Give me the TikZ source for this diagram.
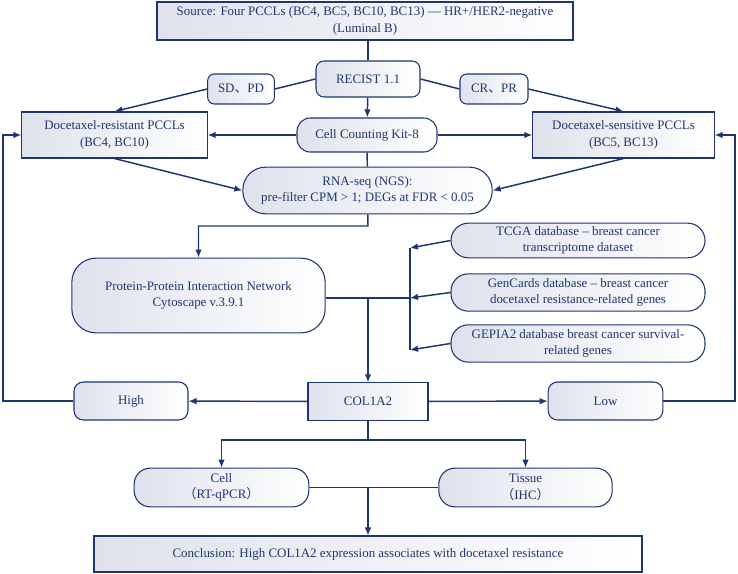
\documentclass[tikz,border=0pt]{standalone}
\usepackage{fontspec}
\setmainfont{Liberation Serif}
\newfontfamily\cjk{Noto Sans CJK SC}
\usetikzlibrary{arrows.meta}
\definecolor{navy}{HTML}{1F3570}
\definecolor{boxfill}{HTML}{DFE2EC}

\begin{document}
\begin{tikzpicture}[x=0.75pt,y=-0.75pt,>={Latex[length=6pt,width=5pt]},
    line/.style={draw=navy,line width=1.1pt},
    sqbox/.style={draw=navy,line width=0.8pt,left color=boxfill,right color=white,
        text=navy,align=center,inner sep=0pt,font=\fontsize{9.7}{12.5}\selectfont},
    rndbox/.style={sqbox,rounded corners=#1},
    rndbox/.default=6pt]
    \useasboundingbox (0,0) rectangle (738,574);
    \node[sqbox,minimum width=312pt,minimum height=28.5pt] (src) at (365,21)
        {Source: Four PCCLs (BC4, BC5, BC10, BC13) — HR+/HER2-negative\\(Luminal B)};
    \node[rndbox,minimum width=78pt,minimum height=27pt] (recist) at (368,79) {RECIST 1.1};
    \node[rndbox=5pt,minimum width=50pt,minimum height=22.5pt] (sdpd) at (241,89) {SD{\cjk 、}PD};
    \node[rndbox=5pt,minimum width=51pt,minimum height=22.5pt] (crpr) at (494,89) {CR{\cjk 、}PR};
    \node[sqbox,minimum width=139pt,minimum height=34.5pt] (res) at (114.5,135)
        {Docetaxel-resistant PCCLs\\(BC4, BC10)};
    \node[rndbox=10pt,minimum width=105pt,minimum height=25.5pt] (cck) at (367,135) {Cell Counting Kit-8};
    \node[sqbox,minimum width=136pt,minimum height=34.5pt] (sens) at (623.5,135)
        {Docetaxel-sensitive PCCLs\\(BC5, BC13)};
    \node[rndbox=17pt,minimum width=187pt,minimum height=35pt] (rna) at (367.5,190.5)
        {RNA-seq (NGS):\\pre-filter CPM > 1; DEGs at FDR < 0.05};
    \node[rndbox=18pt,minimum width=190pt,minimum height=56pt] (ppi) at (198.5,295.5)
        {Protein-Protein Interaction Network\\Cytoscape v.3.9.1};
    \node[rndbox=13pt,minimum width=190.5pt,minimum height=26pt] (tcga) at (578,240.5)
        {TCGA database – breast cancer\\transcriptome dataset};
    \node[rndbox=13pt,minimum width=190.5pt,minimum height=28pt] (gen) at (578,292.5)
        {GenCards database – breast cancer\\docetaxel resistance-related genes};
    \node[rndbox=13pt,minimum width=190.5pt,minimum height=28pt] (gep) at (578,343.5)
        {GEPIA2 database breast cancer survival-\\related genes};
    \node[rndbox=7pt,minimum width=85.5pt,minimum height=28.5pt] (high) at (131,401) {High};
    \node[sqbox,minimum width=90pt,minimum height=28pt] (col) at (368,401.5) {COL1A2};
    \node[rndbox=7pt,minimum width=86pt,minimum height=28.5pt] (low) at (605.5,401) {Low};
    \node[rndbox=12pt,minimum width=131pt,minimum height=29pt] (cell) at (221.5,487.5)
        {Cell\\{\cjk （}RT-qPCR{\cjk ）}};
    \node[rndbox=12pt,minimum width=130pt,minimum height=29pt] (tissue) at (525.5,487.5)
        {Tissue\\{\cjk （}IHC{\cjk ）}};
    \node[sqbox,minimum width=411pt,minimum height=27pt] (concl) at (368,554)
        {Conclusion: High COL1A2 expression associates with docetaxel resistance};
    \coordinate (rnadown) at (368,226);
    \coordinate (ppimid) at (368,297);
    \coordinate (bustop) at (410,248);
    \coordinate (busmid) at (410,298);
    \coordinate (busbot) at (410,350);
    \coordinate (leftrail) at (3,401);
    \coordinate (rightrail) at (735,401);
    \coordinate (split) at (368,440);
    \coordinate (join) at (368,487.5);
    \draw[line] (src.south -| recist) -- (recist);
    \draw[line] (recist.west) -- (sdpd.east);
    \draw[line] (recist.east) -- (crpr.west);
    \draw[line,->] (sdpd.west) -- (res.north);
    \draw[line,->] (crpr.east) -- (sens.north);
    \draw[line,->] (recist) -- (cck);
    \draw[line,->] (cck) -- (res);
    \draw[line,->] (cck) -- (sens);
    \draw[line] (cck) -- (rna);
    \draw[line,->] (res.south) -- (rna.west);
    \draw[line,->] (sens.south) -- (rna.east);
    \draw[line,->] (rna) -- (rnadown) -| (ppi);
    \draw[line] (ppi.east |- busmid) -- (busmid);
    \draw[line] (bustop) -- (busbot);
    \draw[line,->] (tcga.west) -- (bustop);
    \draw[line,->] (gen.west) -- (busmid);
    \draw[line,->] (gep.west) -- (busbot);
    \draw[line,->] (ppimid) -- (col);
    \draw[line,->] (col) -- (high);
    \draw[line,->] (col) -- (low);
    \draw[line,->] (high) -- (leftrail) |- (res);
    \draw[line,->] (low) -- (rightrail) |- (sens);
    \draw[line] (col) -- (split);
    \draw[line,->] (split) -| (cell);
    \draw[line,->] (split) -| (tissue);
    \draw[line] (cell) -- (tissue);
    \draw[line,->] (join) -- (concl);
\end{tikzpicture}
\end{document}
